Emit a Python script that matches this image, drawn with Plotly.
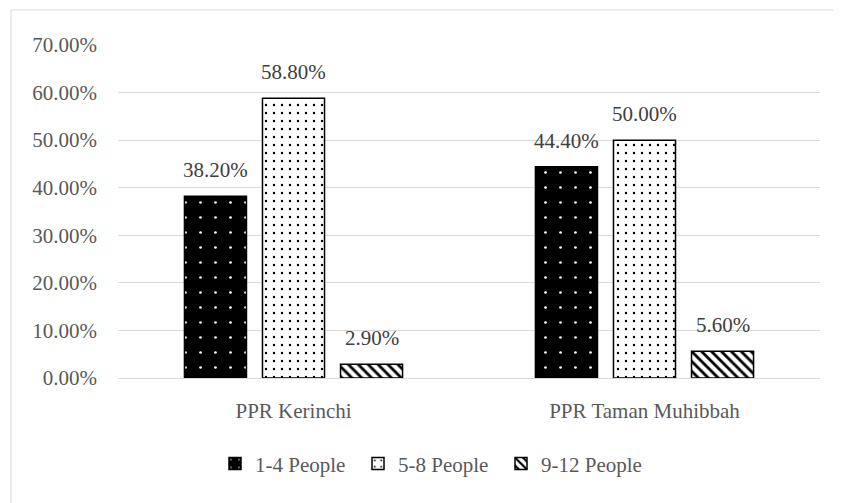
import plotly.graph_objects as go

categories = ["PPR Kerinchi", "PPR Taman Muhibbah"]
series_names = ["1-4 People", "5-8 People", "9-12 People"]
values_14 = [0.382, 0.444]
values_58 = [0.588, 0.500]
values_912 = [0.029, 0.056]
y_ticks = [0.0, 0.1, 0.2, 0.3, 0.4, 0.5, 0.6, 0.7]

FONT = "Liberation Serif"
FS = 21

styles = [
    dict(color="black", pattern=dict(shape=".", fgcolor="white", bgcolor="black", size=15, solidity=0.025, fillmode="replace")),
    dict(color="white", pattern=dict(shape=".", fgcolor="black", bgcolor="white", size=8, solidity=0.07, fillmode="replace")),
    dict(color="white", pattern=dict(shape="\\", fgcolor="black", bgcolor="white", size=7, solidity=0.4, fillmode="replace")),
]

# plot area geometry (px)
L, T, PW, PH = 110, 37, 702, 333
W, H = 833, 495
slot_px = 78  # distance between bar centres inside a group

fig = go.Figure()
all_vals = [values_14, values_58, values_912]
for name, vals, st in zip(series_names, all_vals, styles):
    fig.add_trace(go.Bar(
        name=name, x=categories, y=vals,
        marker=dict(color=st["color"], pattern=st["pattern"], line=dict(color="black", width=1.5)),
        hoverinfo="x+y",
    ))

annotations = []
for i, vals in enumerate(all_vals):
    for cat, v in zip(categories, vals):
        annotations.append(dict(
            x=cat, y=v, xref="x", yref="y", text=f"{v*100:.2f}%",
            showarrow=False, xanchor="center", yanchor="bottom",
            xshift=(i - 1) * slot_px, yshift=12,
            font=dict(family=FONT, size=FS, color="#404040"),
        ))

fig.update_layout(
    width=W, height=H,
    margin=dict(l=L, r=W - L - PW, t=T, b=H - T - PH),
    paper_bgcolor="white", plot_bgcolor="white",
    barmode="group", bargap=0.333, bargroupgap=0.205,
    font=dict(family=FONT, size=FS, color="#595959"),
    showlegend=True,
    legend=dict(orientation="h", x=(215 - 118) / PW, xanchor="left", y=-0.258, yanchor="middle",
                font=dict(family=FONT, size=FS, color="#595959"),
                itemwidth=30, entrywidth=98, entrywidthmode="pixels", tracegroupgap=0),
    annotations=annotations,
)
fig.update_yaxes(range=[0, 0.7], tickvals=y_ticks, tickformat=".2%",
                 showgrid=True, gridcolor="#d9d9d9", gridwidth=1,
                 zeroline=False, showline=False, ticks="",
                 ticklabelstandoff=20,
                 tickfont=dict(family=FONT, size=FS, color="#595959"))
fig.update_xaxes(showline=True, linecolor="#d9d9d9", linewidth=1, ticks="",
                 ticklabelstandoff=14,
                 tickfont=dict(family=FONT, size=FS, color="#595959"))

# chart border (Excel chart area outline): top and left edges visible
fig.add_shape(type="rect", xref="paper", yref="paper",
              x0=(3 - L) / PW, x1=(W + 20 - L) / PW,
              y0=(T + PH - (H + 20)) / PH, y1=(T + PH - 2) / PH,
              line=dict(color="#d9d9d9", width=1), fillcolor="rgba(0,0,0,0)", layer="below")

fig.write_html("out.html")
